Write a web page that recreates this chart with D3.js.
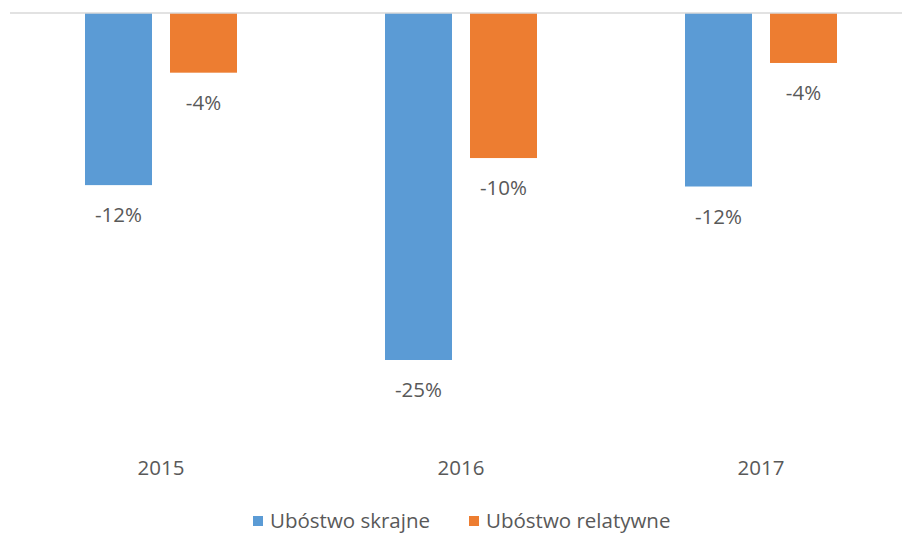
<!DOCTYPE html>
<html>
<head>
<meta charset="utf-8">
<script src="https://cdn.jsdelivr.net/npm/d3@7"></script>
<style>
  body { margin: 0; background: #fff; }
  text { font-family: "Open Sans", "Noto Sans", sans-serif; fill: #595959; }
</style>
</head>
<body>
<script>
// data
var years = ["2015", "2016", "2017"];
var seriesNames = ["Ubóstwo skrajne", "Ubóstwo relatywne"];
var skrajne = [-12.4, -25.0, -12.5];
var relatywne = [-4.3, -10.45, -3.6];
var colours = ["#5b9bd5", "#ed7d31"];

var width = 902, height = 533;

var svg = d3.select("body").append("svg")
  .attr("width", width)
  .attr("height", height);

var x = d3.scaleBand()
  .domain(years)
  .range([11, 911]);

// bars inside each group
var inner = d3.scaleBand()
  .domain(seriesNames)
  .range([74, 300 - 74])
  .paddingInner(18 / 85);

var y = d3.scaleLinear()
  .domain([0, -30])
  .range([13, 13 + 30 * 13.88]);

var rows = [];
years.forEach(function(yr, i) {
  rows.push({year: yr, series: seriesNames[0], value: skrajne[i], c: colours[0]});
  rows.push({year: yr, series: seriesNames[1], value: relatywne[i], c: colours[1]});
});

// bars
svg.selectAll("rect.bar")
  .data(rows)
  .enter()
  .append("rect")
    .attr("class", "bar")
    .attr("x", function(d) { return x(d.year) + inner(d.series); })
    .attr("y", y(0))
    .attr("width", inner.bandwidth())
    .attr("height", function(d) { return y(d.value) - y(0); })
    .attr("fill", function(d) { return d.c; });

// zero line
svg.append("line")
  .attr("x1", 10).attr("x2", 902)
  .attr("y1", y(0)).attr("y2", y(0))
  .attr("stroke", "#d9d9d9")
  .attr("stroke-width", 1.3);

// value labels
svg.selectAll("text.val")
  .data(rows)
  .enter()
  .append("text")
    .attr("class", "val")
    .attr("x", function(d) { return x(d.year) + inner(d.series) + inner.bandwidth() / 2; })
    .attr("y", function(d) { return y(d.value) + 29; })
    .attr("text-anchor", "middle")
    .attr("dominant-baseline", "central")
    .style("font-size", "20.5px")
    .text(function(d) { return Math.round(d.value) + "%"; });

// category labels
svg.selectAll("text.cat")
  .data(years)
  .enter()
  .append("text")
    .attr("class", "cat")
    .attr("x", function(d) { return x(d) + x.bandwidth() / 2; })
    .attr("y", 467)
    .attr("text-anchor", "middle")
    .attr("dominant-baseline", "central")
    .style("font-size", "20.5px")
    .text(function(d) { return d; });

// legend
var legendX = [253, 469];
var legend = svg.selectAll("g.legend")
  .data(seriesNames)
  .enter()
  .append("g")
    .attr("class", "legend")
    .attr("transform", function(d, i) { return "translate(" + legendX[i] + ",520)"; });

legend.append("rect")
  .attr("x", 0).attr("y", -4)
  .attr("width", 10).attr("height", 10)
  .attr("fill", function(d, i) { return colours[i]; });

legend.append("text")
  .attr("x", 17)
  .attr("y", 0)
  .attr("dominant-baseline", "central")
  .style("font-size", "20.5px")
  .text(function(d) { return d; });
</script>
</body>
</html>
